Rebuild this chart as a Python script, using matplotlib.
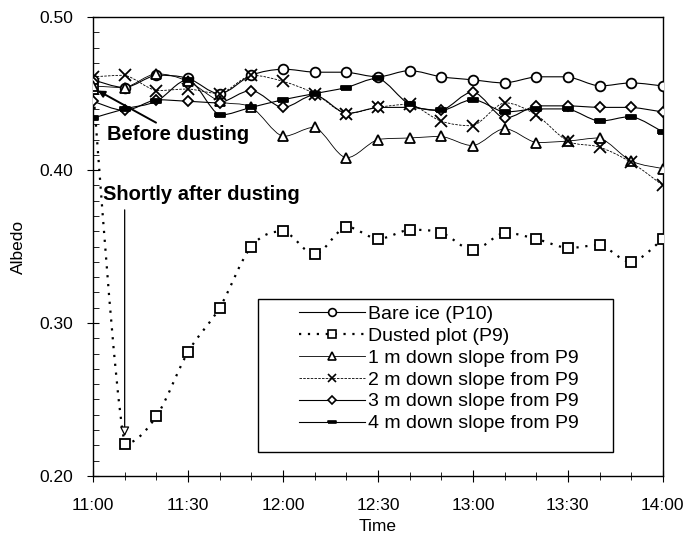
#!/usr/bin/env python3
"""
Albedo of bare ice vs dusted plot (P9) and down-slope plots, 11:00-14:00
"""

import numpy as np
import matplotlib
matplotlib.use('Agg')
import matplotlib.pyplot as plt
from matplotlib.path import Path
from matplotlib.patches import PathPatch, Rectangle
from matplotlib.lines import Line2D

# minutes after 11:00, one reading every 10 min
minutes = [0, 10, 20, 30, 40, 50, 60, 70, 80, 90, 100, 110, 120, 130, 140, 150, 160, 170, 180]

bare_ice = [0.459, 0.454, 0.462, 0.460, 0.450, 0.462, 0.466, 0.464, 0.464, 0.461, 0.465,
            0.461, 0.459, 0.457, 0.461, 0.461, 0.455, 0.457, 0.455]
dusted = [0.453, 0.221, 0.239, 0.281, 0.310, 0.350, 0.360, 0.345, 0.363, 0.355, 0.361,
          0.359, 0.348, 0.359, 0.355, 0.349, 0.351, 0.340, 0.355]
down_1m = [0.455, 0.454, 0.463, 0.458, 0.445, 0.441, 0.422, 0.428, 0.408, 0.420, 0.421,
           0.422, 0.416, 0.427, 0.418, 0.419, 0.421, 0.406, 0.401]
down_2m = [0.461, 0.462, 0.452, 0.453, 0.450, 0.462, 0.458, 0.450, 0.437, 0.441, 0.443,
           0.432, 0.429, 0.444, 0.436, 0.419, 0.415, 0.405, 0.390]
down_3m = [0.445, 0.439, 0.446, 0.445, 0.444, 0.452, 0.441, 0.449, 0.437, 0.441, 0.441,
           0.439, 0.451, 0.434, 0.442, 0.442, 0.441, 0.441, 0.438]
down_4m = [0.434, 0.440, 0.445, 0.459, 0.436, 0.441, 0.446, 0.450, 0.454, 0.460, 0.443,
           0.439, 0.446, 0.438, 0.440, 0.440, 0.432, 0.435, 0.425]

tick_minutes = [0, 30, 60, 90, 120, 150, 180]
tick_labels = ['11:00', '11:30', '12:00', '12:30', '13:00', '13:30', '14:00']

RECT = [(-1.7, -0.6), (1.7, -0.6), (1.7, 0.6), (-1.7, 0.6), (-1.7, -0.6)]

series = [
    ('Bare ice (P10)', bare_ice, 'o', 7, 'white', '-', 0.8),
    ('Dusted plot (P9)', dusted, 's', 7.5, 'white', (0, (1, 3)), 1.6),
    ('1 m down slope from P9', down_1m, '^', 7.5, 'white', '-', 0.6),
    ('2 m down slope from P9', down_2m, 'x', 8, 'none', (0, (3, 1.5)), 0.6),
    ('3 m down slope from P9', down_3m, 'D', 5.5, 'white', '-', 0.8),
    ('4 m down slope from P9', down_4m, RECT, 7, 'black', '-', 0.8),
]


def smooth_path(x, y):
    """Smoothed line like the spreadsheet: Bezier segments, no overshoot in y."""
    x = np.asarray(x, float)
    y = np.asarray(y, float)
    px = np.concatenate([[x[0]], x, [x[-1]]])
    py = np.concatenate([[y[0]], y, [y[-1]]])
    verts = [(x[0], y[0])]
    codes = [Path.MOVETO]
    for i in range(1, len(px) - 2):
        lo, hi = min(py[i], py[i + 1]), max(py[i], py[i + 1])
        c1y = np.clip(py[i] + (py[i + 1] - py[i - 1]) / 6, lo, hi)
        c2y = np.clip(py[i + 1] - (py[i + 2] - py[i]) / 6, lo, hi)
        c1 = (px[i] + (px[i + 1] - px[i - 1]) / 6, c1y)
        c2 = (px[i + 1] - (px[i + 2] - px[i]) / 6, c2y)
        verts += [c1, c2, (px[i + 1], py[i + 1])]
        codes += [Path.CURVE4] * 3
    return Path(verts, codes)


plt.rcParams['font.family'] = ['Liberation Sans', 'DejaVu Sans']

fig = plt.figure(figsize=(6.89, 5.36), dpi=100)
ax = fig.add_axes([0.135, 0.112, 0.827, 0.856])

handles = []
for label, vals, mk, ms, mfc, ls, lw in series:
    ax.add_patch(PathPatch(smooth_path(minutes, vals), fill=False, edgecolor='black',
                           linestyle=ls, linewidth=lw, zorder=2))
    ax.plot(minutes, vals, linestyle='none', marker=mk, markersize=ms,
            markerfacecolor=mfc, markeredgecolor='black', markeredgewidth=1.3, zorder=3)
    handles.append(Line2D([], [], color='black', linestyle=ls, linewidth=lw, marker=mk,
                          markersize=ms * 0.8, markerfacecolor=mfc,
                          markeredgecolor='black', markeredgewidth=1.2, label=label))

# annotations
ax.annotate('Before dusting', xy=(1.5, 0.452), xytext=(4.5, 0.423),
            fontsize=14.5, fontweight='bold', va='center', ha='left',
            arrowprops=dict(arrowstyle='-|>', color='black', lw=1.4,
                            shrinkA=0, shrinkB=0, mutation_scale=10))
ax.text(3, 0.384, 'Shortly after dusting', fontsize=14.5, fontweight='bold',
        va='center', ha='left')
ax.annotate('', xy=(10, 0.226), xytext=(10, 0.374),
            arrowprops=dict(arrowstyle='-|>', color='black', lw=0.9, fc='white',
                            shrinkA=0, shrinkB=0, mutation_scale=14))

ax.set_xlim(0, 180)
ax.set_ylim(0.20, 0.50)
ax.set_xticks(tick_minutes)
ax.set_xticklabels(tick_labels)
ax.set_xticks(np.arange(0, 181, 10), minor=True)
ax.set_yticks([0.20, 0.30, 0.40, 0.50])
ax.set_yticklabels(['0.20', '0.30', '0.40', '0.50'])
ax.set_yticks(np.arange(0.20, 0.501, 0.01), minor=True)

ax.tick_params(axis='x', which='major', direction='inout', length=8, width=0.8,
               labelsize=12.5, pad=12)
ax.tick_params(axis='x', which='minor', direction='inout', length=6, width=0.6)
ax.tick_params(axis='y', which='major', direction='inout', length=8, width=0.8,
               labelsize=12.5, pad=10)
ax.tick_params(axis='y', which='minor', direction='in', length=4, width=0.6)

for sp in ax.spines.values():
    sp.set_linewidth(1.0)

ax.set_xlabel('Time', fontsize=12.5, labelpad=4)
ax.set_ylabel('Albedo', fontsize=12.5, labelpad=10)

# legend box drawn separately so the entries can sit indented inside it
ax.add_patch(Rectangle((0.289, 0.052), 0.623, 0.333, transform=ax.transAxes,
                       facecolor='white', edgecolor='black', linewidth=1.0, zorder=4))
leg = ax.legend(handles=handles, loc='upper left', bbox_to_anchor=(0.362, 0.372),
                fontsize=14, frameon=False, handlelength=3.4, handletextpad=0.15,
                labelspacing=0.22, borderpad=0, borderaxespad=0)
leg.set_zorder(5)

fig.savefig('out.png', dpi=100)
plt.close(fig)
